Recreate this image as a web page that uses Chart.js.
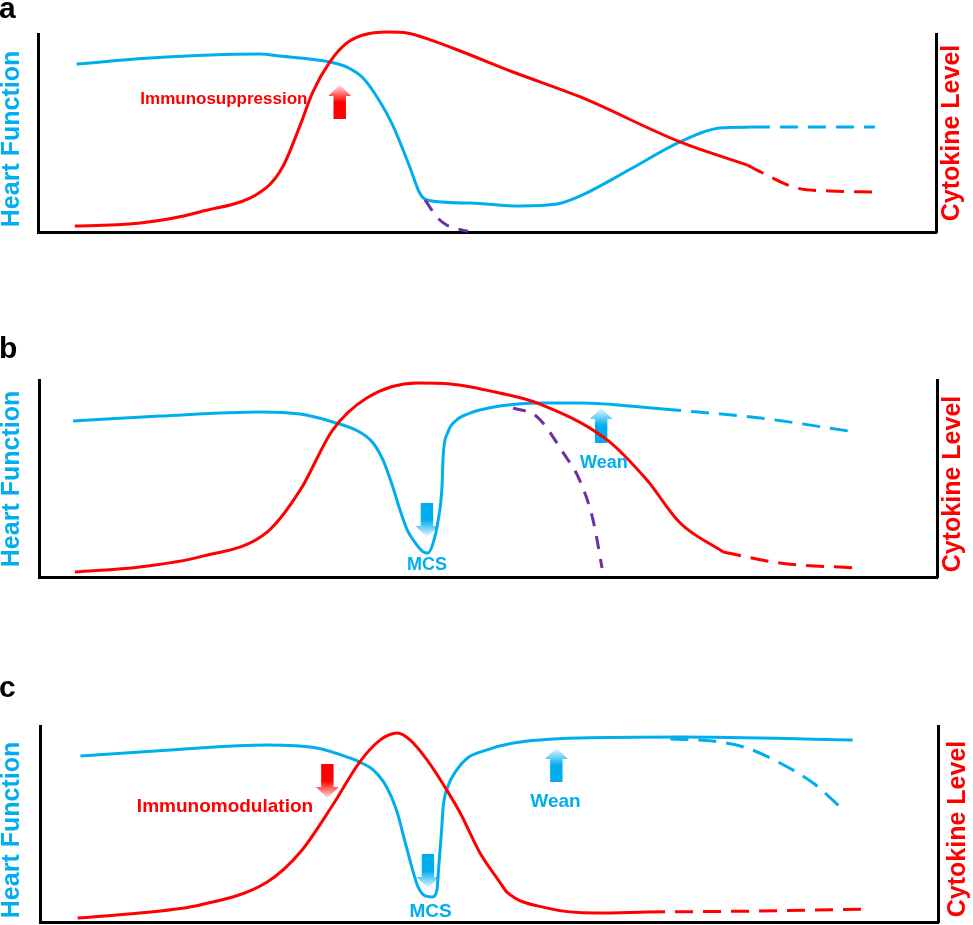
<!DOCTYPE html>
<html>
<head>
<meta charset="utf-8">
<script src="https://cdn.jsdelivr.net/npm/chart.js@4.4.1/dist/chart.umd.min.js"></script>
<style>
  html,body{margin:0;padding:0;background:#fff;}
  body{width:973px;height:925px;position:relative;overflow:hidden;}
  .panel{position:absolute;left:0;width:973px;}
  canvas{display:block;}
</style>
</head>
<body>
<div class="panel" style="top:0px;height:250px"><canvas id="chartA" width="973" height="250"></canvas></div>
<div class="panel" style="top:320px;height:270px"><canvas id="chartB" width="973" height="270"></canvas></div>
<div class="panel" style="top:660px;height:265px"><canvas id="chartC" width="973" height="265"></canvas></div>
<script>
// ---------- shared text ----------
const panelLetters = ['a', 'b', 'c'];
const leftTitle = 'Heart Function';
const rightTitle = 'Cytokine Level';

// ---------- panel a (time 0-100, level 0-100) ----------
const aHeartX = [4.3, 12.5, 24.7, 26.9, 32.5, 34.4, 36.2, 38.1, 39.5, 41.4, 42.5, 43.3, 48.1, 53.7, 57.8, 60.4, 66.0, 71.5, 75.9, 79.5];
const aHeartY = [84.8, 87.9, 89.9, 88.9, 85.9, 83.3, 77.8, 65.7, 54.0, 32.8, 19.7, 16.2, 14.6, 13.1, 14.1, 18.2, 31.8, 45.5, 52.5, 53.0];
const aHeartDashX = [79.5, 93.2];
const aHeartDashY = [53.0, 53.0];
const aCytoX = [4.1, 11.4, 18.0, 25.5, 27.3, 29.2, 30.6, 32.5, 34.4, 36.2, 38.9, 41.1, 43.7, 47.3, 52.9, 60.4, 71.5, 79.0];
const aCytoY = [3.0, 4.5, 10.1, 22.7, 33.3, 54.0, 70.7, 85.9, 95.5, 99.5, 101.0, 100.5, 97.0, 90.9, 80.8, 68.2, 45.5, 33.8];
const aCytoDashX = [79.0, 80.7, 84.5, 88.2, 93.0];
const aCytoDashY = [33.8, 29.8, 22.2, 20.7, 20.2];
const aFailX = [43.1, 43.7, 44.4, 45.5, 46.4, 47.9];
const aFailY = [16.2, 12.1, 7.6, 3.5, 2.0, 0.3];
const aArrowX = [33.6];
const aArrowTip = [74.2];
const aArrowTail = [57.1];
const aArrowKind = ['cytokine'];
const aNoteText = ['Immunosuppression'];
const aNoteX = [20.7];
const aNoteY = [64.6];
const aNoteKind = ['cytokine'];

// ---------- panel b ----------
const bHeartX = [3.8, 13.5, 24.6, 29.1, 32.7, 35.7, 37.2, 38.3, 39.4, 40.2, 41.0, 41.9, 42.8, 43.3, 43.9, 44.4, 44.9, 45.0, 45.5, 46.5, 48.0, 49.1, 51.3, 55.8, 60.2, 69.5];
const bHeartY = [79.2, 81.7, 83.8, 82.7, 78.7, 73.6, 68.0, 59.4, 45.7, 34.0, 23.9, 17.3, 12.7, 12.2, 17.3, 27.4, 47.7, 60.9, 73.1, 79.7, 83.2, 84.8, 86.8, 88.3, 88.3, 85.3];
const bHeartDashX = [69.5, 80.3, 90.9];
const bHeartDashY = [85.3, 80.7, 73.6];
const bCytoX = [4.0, 11.2, 17.9, 25.4, 29.1, 32.7, 36.5, 42.1, 45.8, 51.3, 55.5, 63.3, 67.7, 71.4, 76.2];
const bCytoY = [2.5, 5.1, 10.2, 22.8, 44.2, 74.6, 90.9, 98.5, 98.0, 93.4, 88.3, 69.5, 49.2, 27.4, 12.7];
const bCytoDashX = [76.2, 82.5, 90.9];
const bCytoDashY = [12.7, 7.1, 4.6];
const bFailX = [52.8, 55.5, 58.4, 60.2, 61.7, 62.7];
const bFailY = [85.8, 81.2, 62.9, 49.2, 28.9, 4.6];
const bArrowX = [43.2, 62.6];
const bArrowTip = [20.3, 85.8];
const bArrowTail = [37.6, 68.0];
const bArrowKind = ['heart', 'heart'];
const bNoteText = ['MCS', 'Wean'];
const bNoteX = [43.2, 62.9];
const bNoteY = [3.6, 55.3];
const bNoteKind = ['heart', 'heart'];

// ---------- panel c ----------
const cHeartX = [4.5, 14.5, 25.3, 30.8, 34.5, 35.6, 37.1, 38.6, 39.8, 40.6, 41.4, 42.1, 42.9, 43.7, 44.2, 44.4, 44.7, 44.9, 45.4, 46.4, 47.6, 49.0, 52.7, 60.1, 71.3, 90.5];
const cHeartY = [84.7, 87.8, 90.3, 88.8, 83.7, 81.6, 77.6, 68.9, 55.6, 41.8, 28.1, 17.9, 13.3, 12.8, 16.3, 28.1, 45.4, 58.7, 68.9, 77.6, 83.7, 86.7, 91.3, 93.9, 94.4, 92.9];
const cHeartDashX = [70.2, 74.9, 78.7, 82.4, 86.1, 89.1];
const cHeartDashY = [93.4, 92.3, 88.8, 81.1, 70.9, 58.7];
const cCytoX = [4.2, 11.1, 17.8, 25.3, 29.0, 32.6, 35.6, 37.9, 39.8, 41.2, 43.1, 45.3, 46.8, 49.0, 51.2, 52.0, 56.5, 62.0, 67.6];
const cCytoY = [2.0, 4.6, 8.7, 20.4, 35.7, 59.7, 81.6, 92.9, 96.4, 92.9, 82.7, 67.3, 55.6, 35.2, 20.4, 15.3, 7.1, 4.6, 5.1];
const cCytoDashX = [67.6, 80.2, 92.1];
const cCytoDashY = [5.1, 5.6, 6.6];
const cArrowX = [32.0, 43.2, 57.5];
const cArrowTip = [63.3, 17.3, 88.8];
const cArrowTail = [80.6, 34.7, 71.4];
const cArrowKind = ['cytokine', 'heart', 'heart'];
const cNoteText = ['Immunomodulation', 'MCS', 'Wean'];
const cNoteX = [20.6, 43.5, 57.4];
const cNoteY = [56.1, 2.6, 58.7];
const cNoteKind = ['cytokine', 'heart', 'heart'];

// ---------- styling ----------
const BLUE = '#00AEEF';
const RED = '#FF0000';
const PURPLE = '#7030A0';
const COLOR = {heart: BLUE, cytokine: RED};
const PALE = {heart: 'rgba(0,174,239,0.06)', cytokine: 'rgba(255,0,0,0.12)'};
const FONT = '"Liberation Sans", Arial, Helvetica, sans-serif';

function pts(xs, ys) { return xs.map((x, i) => ({x: x, y: ys[i]})); }

function line(xs, ys, color, axis, dash) {
  return {
    data: pts(xs, ys),
    borderColor: color,
    borderWidth: 3,
    borderDash: dash || [],
    yAxisID: axis,
    fill: false,
    clip: false,
    pointRadius: 0,
    cubicInterpolationMode: 'monotone'
  };
}

function drawArrow(ctx, cx, yTip, yTail, color, pale) {
  const dir = Math.sign(yTail - yTip);
  const headLen = 11, headHalf = 11.5, shaftHalf = 6.2;
  const yBase = yTip + dir * headLen;
  const g = ctx.createLinearGradient(0, yTip, 0, yTail);
  g.addColorStop(0, pale);
  g.addColorStop(0.5, color);
  g.addColorStop(1, color);
  ctx.save();
  ctx.fillStyle = g;
  ctx.beginPath();
  ctx.moveTo(cx - shaftHalf, yTail);
  ctx.lineTo(cx - shaftHalf, yBase);
  ctx.lineTo(cx - headHalf, yBase);
  ctx.lineTo(cx, yTip);
  ctx.lineTo(cx + headHalf, yBase);
  ctx.lineTo(cx + shaftHalf, yBase);
  ctx.lineTo(cx + shaftHalf, yTail);
  ctx.closePath();
  ctx.fill();
  ctx.restore();
}

function makePlugin(p) {
  return {
    id: 'schematic',
    beforeDatasetsDraw(chart) {
      const ctx = chart.ctx, xs = chart.scales.x, ys = chart.scales.y;
      p.arrowX.forEach((v, i) => {
        drawArrow(ctx, xs.getPixelForValue(v), ys.getPixelForValue(p.arrowTip[i]),
          ys.getPixelForValue(p.arrowTail[i]), COLOR[p.arrowKind[i]], PALE[p.arrowKind[i]]);
      });
    },
    afterDraw(chart) {
      const ctx = chart.ctx, xs = chart.scales.x, ys = chart.scales.y;
      ctx.save();
      ctx.textAlign = 'center';
      ctx.textBaseline = 'alphabetic';
      p.noteText.forEach((t, i) => {
        ctx.font = 'bold ' + (p.noteSize[i]) + 'px ' + FONT;
        ctx.fillStyle = COLOR[p.noteKind[i]];
        ctx.fillText(t, xs.getPixelForValue(p.noteX[i]), ys.getPixelForValue(p.noteY[i]));
      });
      ctx.font = 'bold 30px ' + FONT;
      ctx.fillStyle = '#000';
      ctx.textAlign = 'left';
      ctx.fillText(p.letter, -1, p.letterY);
      ctx.font = 'bold 25px ' + FONT;
      ctx.textAlign = 'center';
      ctx.textBaseline = 'middle';
      ctx.save();
      ctx.translate(p.leftTitle[0], p.leftTitle[1]);
      ctx.rotate(-Math.PI / 2);
      ctx.fillStyle = BLUE;
      ctx.fillText(leftTitle, 0, 0);
      ctx.restore();
      ctx.save();
      ctx.translate(p.rightTitle[0], p.rightTitle[1]);
      ctx.rotate(-Math.PI / 2);
      ctx.fillStyle = RED;
      ctx.fillText(rightTitle, 0, 0);
      ctx.restore();
      ctx.restore();
    }
  };
}

function axis(position, horizontal) {
  return {
    type: 'linear',
    position: position,
    min: 0,
    max: 100,
    grid: {display: false},
    ticks: {display: false},
    border: {display: true, width: 3, color: '#000'},
    afterFit(s) { if (horizontal) { s.height = 0; } else { s.width = 0; } }
  };
}

function makeChart(id, padding, datasets, p) {
  return new Chart(document.getElementById(id), {
    type: 'line',
    data: {datasets: datasets},
    options: {
      responsive: false,
      animation: false,
      events: [],
      layout: {padding: padding},
      plugins: {legend: {display: false}, tooltip: {enabled: false}, title: {display: false}},
      scales: {
        x: axis('bottom', true),
        y: axis('left', false),
        y1: axis('right', false)
      }
    },
    plugins: [makePlugin(p)]
  });
}

const DASH = [18, 10];
const FAIL_DASH = [13, 10];

makeChart('chartA', {left: 38, right: 37, top: 34, bottom: 18}, [
  line(aCytoX, aCytoY, RED, 'y1'),
  line(aCytoDashX, aCytoDashY, RED, 'y1', DASH),
  line(aFailX, aFailY, PURPLE, 'y', FAIL_DASH),
  line(aHeartX, aHeartY, BLUE, 'y'),
  line(aHeartDashX, aHeartDashY, BLUE, 'y', DASH)
], {
  arrowX: aArrowX, arrowTip: aArrowTip, arrowTail: aArrowTail, arrowKind: aArrowKind,
  noteText: aNoteText, noteX: aNoteX, noteY: aNoteY, noteKind: aNoteKind, noteSize: [17],
  letter: panelLetters[0], letterY: 18, leftTitle: [12.5, 139], rightTitle: [952, 133]
});

makeChart('chartB', {left: 39, right: 36, top: 60, bottom: 13}, [
  line(bCytoX, bCytoY, RED, 'y1'),
  line(bCytoDashX, bCytoDashY, RED, 'y1', DASH),
  line(bFailX, bFailY, PURPLE, 'y', FAIL_DASH),
  line(bHeartX, bHeartY, BLUE, 'y'),
  line(bHeartDashX, bHeartDashY, BLUE, 'y', DASH)
], {
  arrowX: bArrowX, arrowTip: bArrowTip, arrowTail: bArrowTail, arrowKind: bArrowKind,
  noteText: bNoteText, noteX: bNoteX, noteY: bNoteY, noteKind: bNoteKind, noteSize: [18, 18],
  letter: panelLetters[1], letterY: 38, leftTitle: [12.5, 159], rightTitle: [953, 164]
});

makeChart('chartC', {left: 40, right: 35, top: 66, bottom: 3}, [
  line(cCytoX, cCytoY, RED, 'y1'),
  line(cCytoDashX, cCytoDashY, RED, 'y1', DASH),
  line(cHeartDashX, cHeartDashY, BLUE, 'y', DASH),
  line(cHeartX, cHeartY, BLUE, 'y')
], {
  arrowX: cArrowX, arrowTip: cArrowTip, arrowTail: cArrowTail, arrowKind: cArrowKind,
  noteText: cNoteText, noteX: cNoteX, noteY: cNoteY, noteKind: cNoteKind, noteSize: [19, 19, 19],
  letter: panelLetters[2], letterY: 37, leftTitle: [12.5, 170], rightTitle: [958, 169]
});
</script>
</body>
</html>
